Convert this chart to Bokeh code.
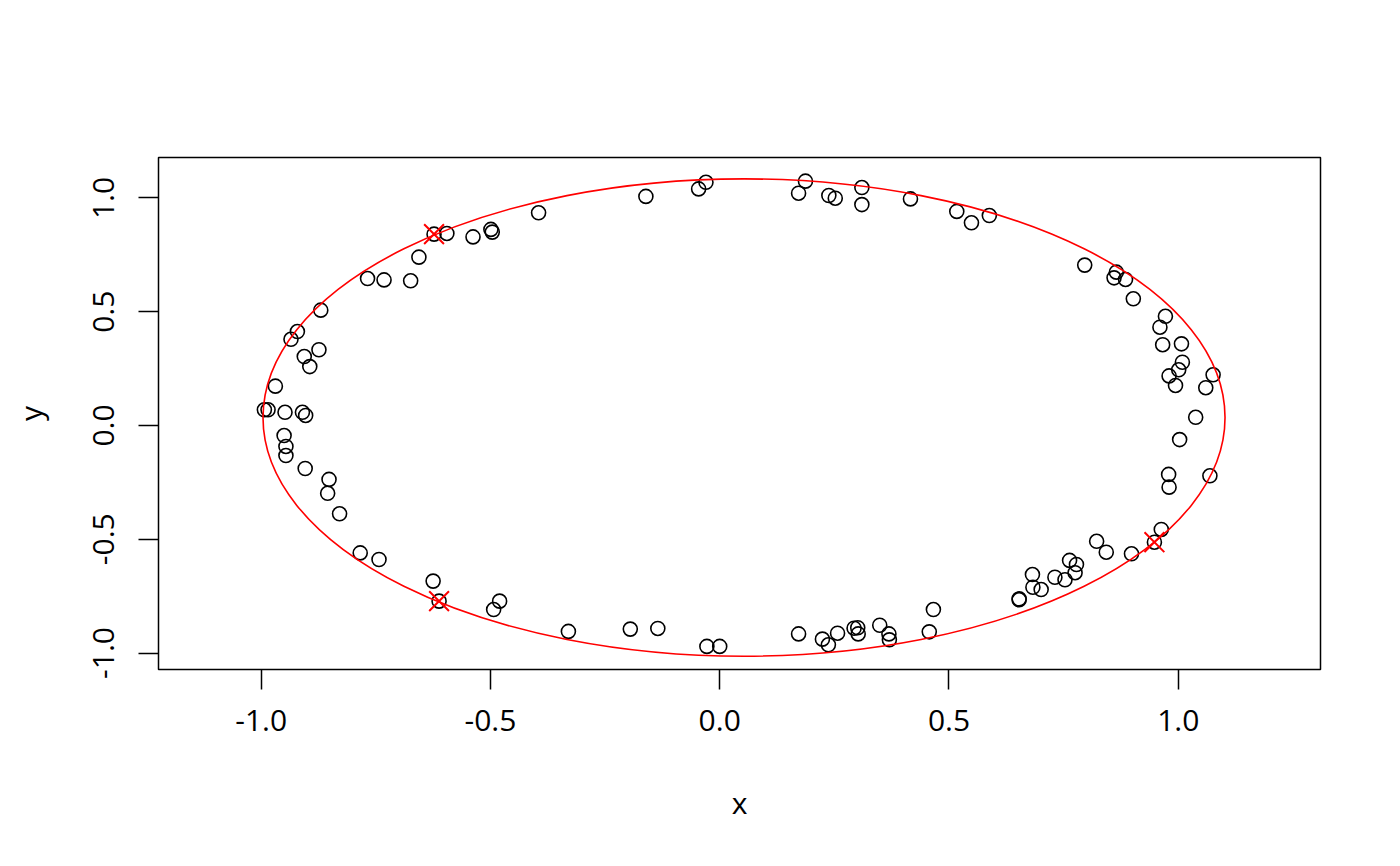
from bokeh.plotting import figure
from bokeh.models import FixedTicker, Range1d
from bokeh.embed import file_html
from bokeh.resources import INLINE

# data points
xs = [-0.395, -0.496, -0.499, -0.538, -0.595, -0.623, -0.656, -0.768, -0.732, -0.674,
      -0.870, -0.921, -0.935, -0.874, -0.906, -0.894, -0.969, -0.993, -0.985, -0.948,
      -0.910, -0.903, -0.950, -0.946, -0.946, -0.904, -0.852, -0.855, -0.829, -0.784,
      -0.743, -0.625, -0.612, -0.480, -0.493, -0.330, -0.195, -0.135, -0.161, -0.046,
      -0.030, 0.187, 0.172, 0.238, 0.252, 0.310, 0.310, 0.416, 0.517, 0.549,
      0.588, 0.796, 0.865, 0.860, 0.885, 0.902, 0.972, 0.960, 0.966, 1.007,
      1.009, 1.001, 0.980, 0.994, 1.076, 1.060, 1.038, 1.003, 0.979, 0.980,
      1.069, -0.028, 0.000, 0.172, 0.224, 0.237, 0.257, 0.293, 0.301, 0.302,
      0.349, 0.369, 0.370, 0.457, 0.466, 0.653, 0.653, 0.682, 0.683, 0.701,
      0.731, 0.753, 0.763, 0.778, 0.775, 0.822, 0.843, 0.898, 0.963, 0.948]
ys = [0.935, 0.850, 0.862, 0.829, 0.844, 0.841, 0.740, 0.646, 0.640, 0.636,
      0.507, 0.413, 0.379, 0.333, 0.303, 0.259, 0.173, 0.069, 0.069, 0.058,
      0.058, 0.044, -0.044, -0.092, -0.132, -0.189, -0.237, -0.298, -0.388, -0.560,
      -0.589, -0.684, -0.772, -0.772, -0.809, -0.905, -0.895, -0.892, 1.007, 1.040,
      1.069, 1.074, 1.021, 1.011, 0.999, 1.046, 0.971, 0.996, 0.941, 0.891,
      0.923, 0.705, 0.674, 0.649, 0.642, 0.557, 0.480, 0.432, 0.355, 0.359,
      0.278, 0.245, 0.218, 0.176, 0.223, 0.166, 0.036, -0.062, -0.215, -0.271,
      -0.221, -0.971, -0.971, -0.916, -0.939, -0.964, -0.913, -0.891, -0.889, -0.916,
      -0.878, -0.916, -0.942, -0.907, -0.809, -0.762, -0.766, -0.655, -0.711, -0.721,
      -0.667, -0.678, -0.593, -0.611, -0.647, -0.509, -0.557, -0.564, -0.457, -0.513]

# the three marked points
mark_x = [-0.623, -0.612, 0.948]
mark_y = [0.841, -0.772, -0.513]

# fitted ellipse
ell_cx = 0.053
ell_cy = 0.035
ell_w = 2.098
ell_h = 2.098

ticks = [-1.0, -0.5, 0.0, 0.5, 1.0]
tick_labels = ["-1.0", "-0.5", "0.0", "0.5", "1.0"]

p = figure(frame_width=1162, frame_height=512,
           min_border_left=158, min_border_right=72,
           min_border_top=157, min_border_bottom=189,
           x_range=Range1d(-1.2239, 1.3102), y_range=Range1d(-1.0725, 1.178),
           x_axis_label="x", y_axis_label="y",
           toolbar_location=None, output_backend="svg")

p.grid.grid_line_color = None
p.outline_line_color = "black"
p.outline_line_width = 1.5
p.background_fill_color = "white"
p.border_fill_color = "white"

for ax in (p.xaxis[0], p.yaxis[0]):
    ax.ticker = FixedTicker(ticks=ticks)
    ax.major_label_overrides = dict(zip(ticks, tick_labels))
    ax.axis_line_color = None
    ax.major_tick_out = 20
    ax.major_tick_in = 0
    ax.major_tick_line_width = 1.5
    ax.major_tick_line_color = "black"
    ax.minor_tick_out = 0
    ax.minor_tick_in = 0
    ax.major_label_text_font = "Open Sans"
    ax.major_label_text_font_size = "30px"
    ax.major_label_text_color = "black"
    ax.axis_label_text_font = "Open Sans"
    ax.axis_label_text_font_size = "30px"
    ax.axis_label_text_font_style = "normal"
    ax.axis_label_text_color = "black"

p.xaxis[0].major_label_standoff = 20
p.xaxis[0].axis_label_standoff = 48
p.yaxis[0].major_label_standoff = 24
p.yaxis[0].axis_label_standoff = 40
p.yaxis[0].major_label_orientation = "vertical"

p.scatter(xs, ys, marker="circle", size=14, fill_color=None,
          line_color="black", line_width=1.6)

p.ellipse(x=[ell_cx], y=[ell_cy], width=[ell_w], height=[ell_h],
          fill_color=None, line_color="red", line_width=1.6)

p.scatter(mark_x, mark_y, marker="x", size=28, line_color="red", line_width=2)

open("out.html", "w").write(file_html(p, INLINE))
